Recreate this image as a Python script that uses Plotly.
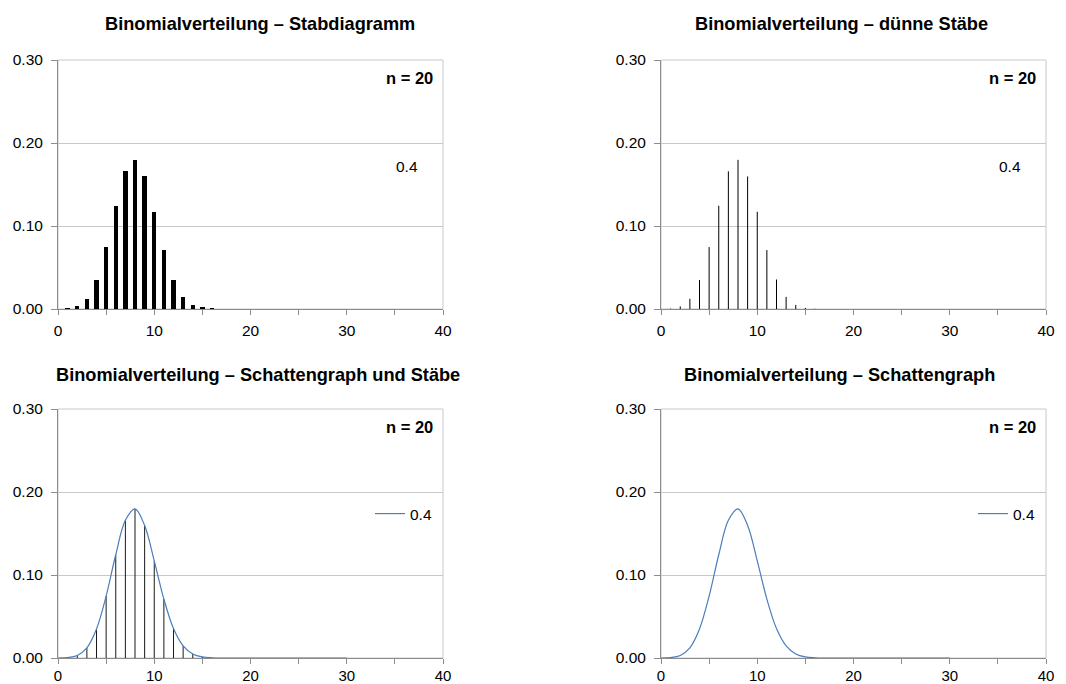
import plotly.graph_objects as go

# Binomial distribution n = 20, p = 0.4: probabilities P(X = k)
k_values = list(range(0, 31))
p_values = [
    0.0000, 0.0005, 0.0031, 0.0123, 0.0350, 0.0746, 0.1244, 0.1659, 0.1797, 0.1597,
    0.1171, 0.0710, 0.0355, 0.0146, 0.0049, 0.0013, 0.0003, 0.0000, 0.0000, 0.0000,
    0.0000, 0.0000, 0.0000, 0.0000, 0.0000, 0.0000, 0.0000, 0.0000, 0.0000, 0.0000,
    0.0000,
]

panel_titles = [
    "Binomialverteilung – Stabdiagramm",
    "Binomialverteilung – dünne Stäbe",
    "Binomialverteilung – Schattengraph und Stäbe",
    "Binomialverteilung – Schattengraph",
]
n_label = "n = 20"
series_label = "0.4"

x_tick_vals = [0, 5, 10, 15, 20, 25, 30, 35, 40]
x_tick_text = ["0", "", "10", "", "20", "", "30", "", "40"]
y_tick_vals = [0.0, 0.1, 0.2, 0.3]

FONT = "Liberation Sans, Arial, sans-serif"
AXIS_GRAY = "#8c8c8c"
GRID_GRAY = "#c8c8c8"
BLUE = "#4a7ebb"

W, H = 1066, 684
# plot-area boxes in pixels: (left, right, top, bottom)
boxes = [
    (58, 443, 60, 309),
    (661, 1046, 60, 309),
    (58, 443, 409, 658),
    (661, 1046, 409, 658),
]
title_centers = [(260, 24), (841, 24), (258, 375), (839, 375)]

# stems built from the probabilities (vertical line from 0 to P(X=k))
stem_x, stem_y = [], []
for k, p in zip(k_values, p_values):
    stem_x += [k, k, None]
    stem_y += [0, p, None]

fig = go.Figure()

# 1: thick bars
fig.add_trace(go.Bar(x=k_values, y=p_values, width=0.45, marker=dict(color="black", line=dict(width=0)),
                     xaxis="x", yaxis="y", showlegend=False))
# 2: thin bars
fig.add_trace(go.Scatter(x=stem_x, y=stem_y, mode="lines", line=dict(color="black", width=1),
                         xaxis="x2", yaxis="y2", showlegend=False, hoverinfo="skip"))
# 3: thin bars + smoothed curve
fig.add_trace(go.Scatter(x=stem_x, y=stem_y, mode="lines", line=dict(color="#1a1a1a", width=1),
                         xaxis="x3", yaxis="y3", showlegend=False, hoverinfo="skip"))
fig.add_trace(go.Scatter(x=k_values, y=p_values, mode="lines", name=series_label,
                         line=dict(color=BLUE, width=1.2, shape="spline", smoothing=1.0),
                         xaxis="x3", yaxis="y3", showlegend=True, legend="legend"))
# 4: smoothed curve only
fig.add_trace(go.Scatter(x=k_values, y=p_values, mode="lines", name=series_label,
                         line=dict(color=BLUE, width=1.2, shape="spline", smoothing=1.0),
                         xaxis="x4", yaxis="y4", showlegend=True, legend="legend2"))

layout = dict(
    width=W, height=H,
    margin=dict(l=0, r=0, t=0, b=0, pad=0, autoexpand=False),
    paper_bgcolor="white", plot_bgcolor="white",
    font=dict(family=FONT, size=15.5, color="black"),
    bargap=0,
)

annotations = []
shapes = []
for i, (l, r, t, b) in enumerate(boxes):
    sfx = "" if i == 0 else str(i + 1)
    xa, ya = "xaxis" + sfx, "yaxis" + sfx
    layout[xa] = dict(
        domain=[l / W, r / W], anchor="y" + sfx, range=[0, 40],
        tickmode="array", tickvals=x_tick_vals, ticktext=x_tick_text,
        ticks="outside", ticklen=5, tickcolor=AXIS_GRAY, tickwidth=1,
        ticklabelstandoff=2 if i < 2 else -1,
        showline=True, linecolor=AXIS_GRAY, linewidth=1,
        showgrid=False, zeroline=False, automargin=False,
        tickfont=dict(family=FONT, size=15.5 if i < 2 else 15, color="black"),
    )
    layout[ya] = dict(
        domain=[1 - b / H, 1 - t / H], anchor="x" + sfx, range=[0, 0.3],
        tickmode="array", tickvals=y_tick_vals, tickformat=".2f",
        ticks="outside", ticklen=6, tickcolor=AXIS_GRAY, tickwidth=1,
        ticklabelstandoff=5,
        showline=True, linecolor=AXIS_GRAY, linewidth=1,
        showgrid=True, gridcolor=GRID_GRAY, gridwidth=1, zeroline=False, automargin=False,
        tickfont=dict(family=FONT, size=15.5, color="black"),
    )
    # plot-area border (top and right edges)
    shapes.append(dict(type="rect", xref=f"x{sfx} domain", yref=f"y{sfx} domain",
                       x0=0, x1=1, y0=0, y1=1, line=dict(color=GRID_GRAY, width=1),
                       layer="below"))
    cx, cy = title_centers[i]
    annotations.append(dict(text=f"<b>{panel_titles[i]}</b>", x=cx / W, y=1 - cy / H,
                            xref="paper", yref="paper", xanchor="center", yanchor="middle",
                            showarrow=False, font=dict(family=FONT, size=18.2, color="black")))
    annotations.append(dict(text=f"<b>{n_label}</b>", x=1, y=1, xref=f"x{sfx} domain",
                            yref=f"y{sfx} domain", xanchor="right", yanchor="top",
                            xshift=-8, yshift=-7, showarrow=False,
                            font=dict(family=FONT, size=16.5, color="black")))
    if i < 2:
        annotations.append(dict(text=series_label, x=0.907, y=0.574, xref=f"x{sfx} domain",
                                yref=f"y{sfx} domain", xanchor="center", yanchor="middle",
                                showarrow=False, font=dict(family=FONT, size=15.5, color="black")))

legend_common = dict(bgcolor="rgba(0,0,0,0)", borderwidth=0, xanchor="left", yanchor="middle",
                     font=dict(family=FONT, size=15.5, color="black"), itemwidth=30,
                     tracegroupgap=0)
layout["legend"] = dict(x=370 / W, y=1 - 514 / H, **legend_common)
layout["legend2"] = dict(x=973 / W, y=1 - 514 / H, **legend_common)
layout["annotations"] = annotations
layout["shapes"] = shapes

fig.update_layout(**layout)
fig.write_html("out.html")
